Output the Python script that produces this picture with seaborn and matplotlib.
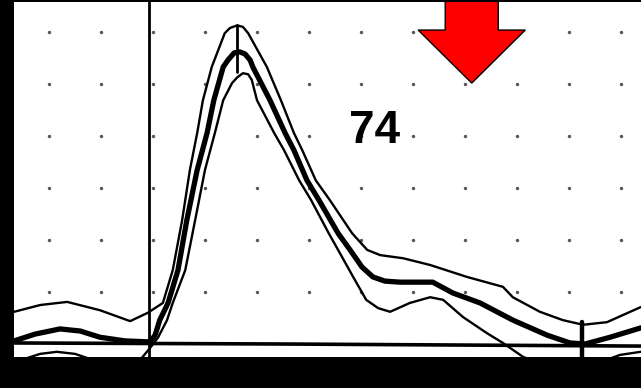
import numpy as np
import pandas as pd
import seaborn as sns
import matplotlib.pyplot as plt

# pulse tracing (1 grid division = 1 unit)
mid_x = [-2.67, -2.27, -1.79, -1.40, -1.02, -0.54, -0.06, 0.04, 0.13, 0.29, 0.48, 0.65, 0.85,
         1.04, 1.17, 1.35, 1.44, 1.56, 1.67, 1.77, 1.87, 1.92, 2.25, 2.54, 2.71, 2.96, 3.19,
         3.56, 3.79, 4.02, 4.23, 4.46, 4.75, 5.38, 5.77, 6.29, 6.92, 7.58, 8.02, 8.31, 8.79, 9.38]
mid_y = [0.06, 0.19, 0.29, 0.25, 0.13, 0.06, 0.04, 0.17, 0.46, 0.79, 1.42, 2.38, 3.35,
         4.06, 4.69, 5.33, 5.46, 5.60, 5.62, 5.58, 5.46, 5.33, 4.69, 4.06, 3.73, 3.15, 2.77,
         2.13, 1.81, 1.48, 1.29, 1.21, 1.19, 1.19, 0.98, 0.79, 0.46, 0.17, 0.02, 0.00, 0.13, 0.31]

outer_x = [-2.67, -2.17, -1.65, -1.02, -0.44, -0.10, 0.19, 0.38, 0.56, 0.71, 0.85, 0.96, 1.13,
           1.38, 1.48, 1.62, 1.73, 1.83, 2.19, 2.46, 2.71, 2.87, 3.13, 3.40, 3.83, 4.12, 4.37,
           4.81, 5.33, 6.04, 6.73, 6.92, 7.44, 7.88, 8.27, 8.73, 9.38]
outer_y = [0.62, 0.75, 0.81, 0.65, 0.44, 0.60, 0.79, 1.42, 2.38, 3.35, 4.06, 4.69, 5.33,
           5.98, 6.08, 6.13, 6.10, 5.98, 5.33, 4.69, 4.06, 3.73, 3.15, 2.77, 2.13, 1.81, 1.71,
           1.65, 1.52, 1.29, 1.10, 0.90, 0.62, 0.46, 0.37, 0.42, 0.71]

inner_x = [-2.67, -2.17, -1.85, -1.50, -1.02, -0.25, -0.06, 0.10, 0.27, 0.38, 0.62, 0.81, 1.00,
           1.19, 1.35, 1.52, 1.62, 1.73, 1.83, 1.90, 2.00, 2.33, 2.52, 2.81, 3.04, 3.38, 3.56,
           3.85, 4.10, 4.33, 4.56, 4.94, 5.33, 5.58, 5.96, 6.42, 6.73, 7.12, 7.83, 8.60, 8.98, 9.38]
inner_y = [-0.35, -0.19, -0.15, -0.19, -0.35, -0.31, -0.08, 0.13, 0.46, 0.79, 1.42, 2.38, 3.35,
           4.06, 4.69, 5.02, 5.13, 5.21, 5.19, 5.08, 4.69, 4.06, 3.73, 3.15, 2.77, 2.13, 1.81,
           1.29, 0.85, 0.69, 0.62, 0.79, 0.90, 0.85, 0.52, 0.21, 0.02, -0.25, -0.50, -0.35, -0.21, -0.15]

base_x = [-2.67, 2.5, 9.38]
base_y = [0.02, 0.0, -0.04]

dot_cols = list(range(-2, 10))
dot_rows = list(range(1, 7))

rate_label = "74"

mid = pd.DataFrame({"x": mid_x, "y": mid_y})
outer = pd.DataFrame({"x": outer_x, "y": outer_y})
inner = pd.DataFrame({"x": inner_x, "y": inner_y})
base = pd.DataFrame({"x": base_x, "y": base_y})
gx, gy = np.meshgrid(dot_cols, dot_rows)
dots = pd.DataFrame({"x": gx.ravel(), "y": gy.ravel()})

sns.set_style("white")
fig = plt.figure(figsize=(6.41, 3.88), dpi=100, facecolor="black")
ax = fig.add_axes([14 / 641, 31 / 388, 627 / 641, 355 / 388])
ax.set_facecolor("white")

sns.scatterplot(data=dots, x="x", y="y", color="#555555", s=6, linewidth=0, ax=ax)
sns.lineplot(data=base, x="x", y="y", color="black", linewidth=2.6, sort=False, ax=ax)
sns.lineplot(data=outer, x="x", y="y", color="black", linewidth=1.7, sort=False, ax=ax,
             solid_joinstyle="round")
sns.lineplot(data=inner, x="x", y="y", color="black", linewidth=1.7, sort=False, ax=ax,
             solid_joinstyle="round")
sns.lineplot(data=mid, x="x", y="y", color="black", linewidth=3.8, sort=False, ax=ax,
             solid_joinstyle="round")

ax.axvline(-0.08, color="black", linewidth=2)
ax.plot([1.62, 1.62], [6.13, 5.23], color="black", linewidth=2)
ax.plot([8.25, 8.25], [0.42, -0.3], color="black", linewidth=3.2)

ax.arrow(6.13, 6.9, 0, -1.88, width=1.02, head_width=2.06, head_length=1.02,
         length_includes_head=True, fc="#ff0000", ec="black", lw=1, zorder=5)
ax.text(4.26, 3.87, rate_label, ha="center", va="baseline", fontsize=33,
        fontweight="bold", family="Liberation Sans", color="black")

ax.set_xlim(-2.673, 9.385)
ax.set_ylim(-0.25, 6.58)
ax.set_xlabel("")
ax.set_ylabel("")
ax.set_xticks([])
ax.set_yticks([])
for s in ax.spines.values():
    s.set_visible(False)

plt.savefig("out.png", dpi=100, facecolor="black")
